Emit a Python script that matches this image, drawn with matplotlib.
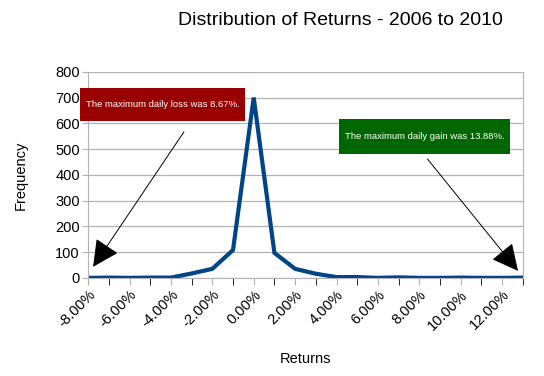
import matplotlib
matplotlib.use('Agg')
import matplotlib.pyplot as plt
from matplotlib.patches import Rectangle
from matplotlib.ticker import FuncFormatter, MultipleLocator

plt.rcParams['font.family'] = ['Liberation Sans', 'DejaVu Sans']

# 分布データ (リターン % と頻度)
returns = [-8, -7, -6, -5, -4, -3, -2, -1, 0, 1, 2, 3, 4, 5, 6, 7, 8, 9, 10, 11, 12, 13]
frequency = [0, 1, 0, 1, 1, 17, 35, 108, 700, 97, 35, 16, 3, 3, 0, 2, 0, 0, 1, 0, 0, 1]

loss_text = 'The maximum daily loss was 8.67%.'
gain_text = 'The maximum daily gain was 13.88%.'

fig = plt.figure(figsize=(5.44, 3.76), dpi=100)
ax = fig.add_axes([0.162, 0.261, 0.799, 0.548])

ax.plot(returns, frequency, color='#004586', lw=3, solid_joinstyle='miter')

ax.set_xlim(-8, 13)
ax.set_ylim(0, 800)
ax.xaxis.set_major_locator(MultipleLocator(2))
ax.xaxis.set_minor_locator(MultipleLocator(1))
ax.yaxis.set_major_locator(MultipleLocator(100))
ax.xaxis.set_major_formatter(FuncFormatter(lambda v, p: '%.2f%%' % v))

ax.grid(axis='y', color='#b3b3b3', lw=0.9)
ax.set_axisbelow(True)
for s in ['left', 'bottom', 'right']:
    ax.spines[s].set_color('#b3b3b3')
ax.spines['top'].set_visible(False)
ax.tick_params(axis='both', colors='#b3b3b3', labelcolor='black', labelsize=10.5)
ax.tick_params(axis='x', which='both', length=5, pad=2)
ax.tick_params(axis='y', length=4, pad=2)
plt.setp(ax.get_xticklabels(), rotation=45, ha='right', rotation_mode='anchor')

ax.set_xlabel('Returns', fontsize=10.5, labelpad=14)
ax.set_ylabel('Frequency', fontsize=10.5, labelpad=20)
fig.text(0.625, 0.945, 'Distribution of Returns - 2006 to 2010', ha='center', va='center', fontsize=14)

# 注釈ボックスと矢印
ax.add_patch(Rectangle((-8.39, 610), 7.96, 128, fc='#990000', ec='none', clip_on=False, zorder=3))
ax.text(-4.41, 674, loss_text, ha='center', va='center', color='white', fontsize=6.8, zorder=4)
ax.add_patch(Rectangle((4.10, 482), 8.29, 135, fc='#006600', ec='none', clip_on=False, zorder=3))
ax.text(8.245, 549, gain_text, ha='center', va='center', color='white', fontsize=6.8, zorder=4)

arrow = dict(arrowstyle='-|>,head_length=1.4,head_width=0.7', color='black', lw=0.7,
             mutation_scale=12, shrinkA=0, shrinkB=0)
ax.annotate('', xy=(-7.76, 43), xytext=(-3.37, 567), arrowprops=arrow)
ax.annotate('', xy=(12.77, 27), xytext=(8.39, 462), arrowprops=arrow)

fig.savefig('out.png', dpi=100)
